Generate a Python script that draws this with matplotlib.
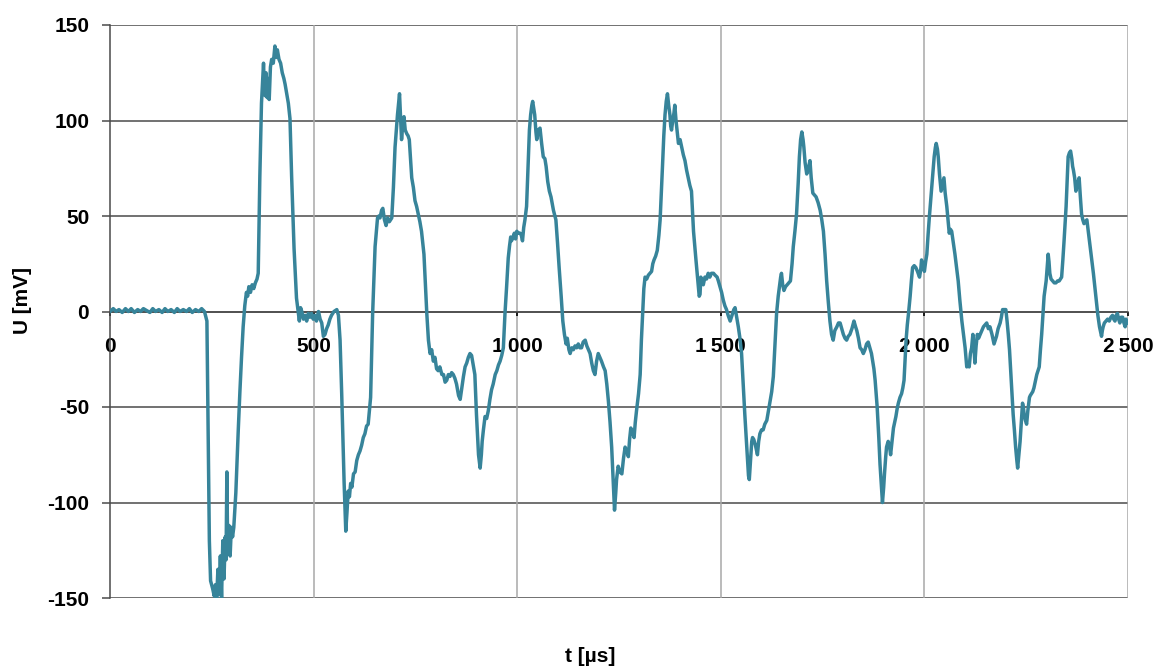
import matplotlib
matplotlib.use('Agg')
import matplotlib.pyplot as plt
import numpy as np

plt.rcParams['font.family'] = ['Liberation Sans', 'DejaVu Sans']
plt.rcParams['font.size'] = 15
plt.rcParams['font.weight'] = 'bold'
plt.rcParams['axes.unicode_minus'] = False

# measured signal: time in microseconds, voltage in millivolts
t_us = [
    0, 8, 15, 22, 30, 38, 45, 52, 60, 68, 75, 82, 90, 98, 105, 112, 120, 128, 135, 142,
    150, 158, 165, 172, 180, 188, 195, 202, 210, 218, 225, 232,
    238, 241, 244, 247, 252, 256, 259, 262, 265, 268, 271, 274, 277, 280, 283, 285, 287, 289,
    292, 295, 298, 301, 304, 309, 315, 319, 323, 327, 331, 335, 338, 341, 345, 349, 353, 357,
    361, 364, 366, 368, 372, 377, 379, 381, 383, 386, 388, 391, 394, 397, 401, 405, 408, 411,
    415, 419, 423, 427, 430, 434, 438, 442, 446, 452, 458, 462, 465, 468, 471, 475, 479, 483,
    487, 491, 495, 499, 503, 507, 512, 516, 520, 524, 528, 532, 536, 540, 544, 550, 557, 561,
    565, 569, 575, 579, 582, 585, 588, 591, 594, 598, 602, 606, 610, 614, 618, 622, 626, 630,
    634, 637, 640, 645, 651, 657, 660, 663, 667, 670, 674, 678, 682, 686, 692, 696, 700, 706,
    711, 714, 716, 719, 722, 725, 729, 732, 735, 738, 741, 745, 749, 753, 757, 761, 765, 771,
    778, 782, 786, 790, 794, 798, 802, 806, 810, 815, 819, 823, 827, 831, 835, 839, 843, 847,
    851, 856, 860, 864, 868, 872, 876, 880, 884, 888, 892, 896, 900, 905, 909, 912, 914, 917,
    921, 925, 929, 933, 937, 941, 946, 950, 954, 958, 962, 966, 970, 974, 978, 981, 984, 986,
    990, 993, 996, 999, 1003, 1007, 1010, 1013, 1016, 1019, 1023, 1027, 1030, 1033, 1036, 1038,
    1041, 1043, 1046, 1048, 1052, 1056, 1060, 1064, 1068, 1071, 1075, 1079, 1083, 1089, 1095,
    1099, 1103, 1108, 1112, 1116, 1120, 1123, 1127, 1130, 1134, 1138, 1142, 1146, 1150, 1154,
    1158, 1162, 1167, 1171, 1175, 1179, 1183, 1187, 1191, 1195, 1199, 1203, 1207, 1212, 1216,
    1220, 1224, 1228, 1232, 1236, 1239, 1242, 1244, 1248, 1252, 1257, 1261, 1265, 1269, 1273,
    1276, 1279, 1283, 1287, 1290, 1293, 1298, 1302, 1305, 1308, 1311, 1314, 1318, 1322, 1326,
    1330, 1333, 1336, 1340, 1344, 1348, 1351, 1354, 1357, 1360, 1363, 1366, 1369, 1372, 1375,
    1377, 1379, 1382, 1385, 1387, 1390, 1393, 1396, 1400, 1404, 1408, 1412, 1416, 1420, 1424,
    1428, 1433, 1439, 1445, 1447, 1449, 1451, 1453, 1457, 1461, 1465, 1469, 1473, 1477, 1482,
    1486, 1491, 1494, 1498, 1502, 1506, 1510, 1514, 1518, 1523, 1526, 1529, 1532, 1535, 1539,
    1543, 1547, 1551, 1555, 1559, 1565, 1568, 1570, 1573, 1576, 1578, 1581, 1585, 1590, 1593,
    1596, 1600, 1604, 1608, 1613, 1617, 1621, 1625, 1629, 1633, 1637, 1641, 1644, 1647, 1649,
    1652, 1655, 1659, 1663, 1667, 1671, 1675, 1678, 1682, 1686, 1690, 1693, 1696, 1699, 1702,
    1704, 1707, 1711, 1715, 1719, 1722, 1726, 1730, 1734, 1739, 1744, 1748, 1752, 1756, 1760,
    1764, 1768, 1772, 1776, 1780, 1785, 1789, 1793, 1797, 1801, 1805, 1809, 1813, 1817, 1822,
    1827, 1831, 1834, 1838, 1842, 1846, 1850, 1854, 1858, 1862, 1866, 1870, 1873, 1876, 1879,
    1884, 1888, 1891, 1894, 1897, 1900, 1902, 1905, 1907, 1911, 1914, 1917, 1921, 1924, 1927,
    1930, 1933, 1936, 1940, 1944, 1947, 1950, 1955, 1958, 1961, 1965, 1968, 1971, 1975, 1979,
    1983, 1988, 1991, 1993, 1997, 2000, 2003, 2006, 2009, 2012, 2015, 2018, 2021, 2024, 2027,
    2029, 2032, 2034, 2037, 2041, 2044, 2048, 2051, 2055, 2058, 2061, 2064, 2067, 2071, 2075,
    2079, 2083, 2087, 2092, 2096, 2100, 2104, 2107, 2110, 2113, 2116, 2119, 2122, 2124, 2127,
    2130, 2133, 2137, 2141, 2145, 2149, 2153, 2157, 2161, 2166, 2171, 2174, 2177, 2181, 2186,
    2189, 2192, 2196, 2200, 2203, 2206, 2209, 2212, 2215, 2218, 2221, 2224, 2227, 2229, 2232,
    2235, 2238, 2241, 2243, 2245, 2248, 2251, 2254, 2258, 2260, 2263, 2266, 2269, 2272, 2276,
    2279, 2282, 2285, 2288, 2291, 2294, 2297, 2299, 2302, 2304, 2306, 2308, 2311, 2315, 2319,
    2323, 2327, 2331, 2334, 2337, 2340, 2343, 2346, 2348, 2351, 2353, 2356, 2359, 2362, 2364,
    2366, 2369, 2372, 2376, 2380, 2383, 2386, 2389, 2392, 2395, 2399, 2403, 2407, 2411, 2415,
    2419, 2423, 2426, 2430, 2433, 2435, 2437, 2439, 2442, 2446, 2450, 2454, 2458, 2462, 2465,
    2468, 2471, 2474, 2477, 2480, 2483, 2487, 2490, 2493, 2495, 2497, 2500,
]
u_mv = [
    0, 1.5, 0, 1, -0.5, 1.5, 0, 1.5, -0.5, 1, 0, 1.5, 0.5, -0.5, 1.5, 0, 1, -0.5, 1.5, 0,
    1, -0.5, 1.5, 0, 1, 0, 1.5, -0.5, 1, 0, 1.5, 0,
    -5, -60, -120, -141, -145, -149, -143, -150, -135, -148, -128, -150, -120, -140, -118, -130, -84, -125,
    -112, -128, -113, -118, -113, -95, -62, -42, -24, -8, 3, 10, 8, 13, 10, 14, 12, 15,
    17, 20, 45, 71, 109, 130, 118, 113, 125, 112, 122, 111, 128, 132, 130, 139, 133, 137,
    132, 130, 125, 122, 119, 114, 109, 101, 71, 33, 7, 0, -5, 2, 0, -4, -2, -5,
    -1, -3, -1, -4, -2, -5, 0, -4, -6, -13, -12, -9, -7, -4, -2, 0, 1, -2,
    -15, -43, -90, -115, -105, -94, -97, -90, -92, -85, -84, -78, -75, -73, -70, -66, -64, -60,
    -59, -52, -45, -1, 34, 49, 50, 49, 53, 54, 48, 45, 49, 47, 49, 65, 86, 103,
    114, 100, 90, 98, 102, 95, 93, 92, 90, 80, 70, 65, 58, 55, 51, 47, 42, 30,
    -1, -15, -22, -20, -26, -24, -30, -31, -29, -33, -33, -37, -36, -33, -34, -32, -33, -35,
    -38, -44, -46, -40, -34, -29, -27, -24, -22, -23, -28, -33, -54, -75, -82, -75, -68, -62,
    -55, -56, -52, -46, -41, -38, -33, -31, -28, -26, -23, -19, -1, 13, 28, 34, 39, 37,
    39, 41, 38, 42, 41, 41, 40, 37, 44, 48, 55, 77, 95, 103, 108, 110,
    106, 103, 94, 90, 95, 96, 88, 81, 80, 76, 68, 63, 60, 53, 48,
    36, 23, 8, -5, -12, -17, -14, -20, -22, -19, -20, -18, -19, -17, -19,
    -19, -16, -15, -18, -20, -22, -27, -31, -33, -26, -22, -24, -26, -29, -31,
    -38, -47, -58, -71, -90, -104, -95, -88, -81, -84, -85, -77, -71, -73, -76,
    -67, -61, -63, -66, -58, -52, -43, -33, -15, -1, 12, 18, 17, 19, 20,
    21, 25, 27, 29, 32, 40, 48, 62, 77, 92, 103, 110, 114, 108, 103,
    97, 95, 100, 104, 108, 100, 94, 88, 90, 86, 82, 79, 74, 70, 66,
    63, 42, 27, 13, 8, 9, 18, 16, 14, 18, 17, 20, 18, 20, 20,
    19, 18, 16, 13, 10, 6, 3, 1, -2, -5, -3, -1, 1, 2, -3,
    -8, -14, -22, -38, -54, -75, -86, -88, -78, -68, -66, -67, -70, -75, -68,
    -64, -62, -62, -59, -57, -52, -47, -42, -34, -18, -1, 8, 13, 18, 20,
    14, 11, 13, 14, 15, 16, 25, 34, 42, 51, 67, 81, 90, 94, 90,
    86, 78, 72, 75, 79, 70, 62, 61, 60, 57, 53, 48, 42, 30, 16,
    5, -5, -12, -15, -10, -8, -6, -6, -9, -12, -14, -15, -13, -12, -9,
    -5, -8, -10, -14, -19, -20, -22, -20, -17, -16, -19, -22, -26, -30, -36,
    -50, -66, -80, -90, -100, -92, -85, -76, -71, -68, -70, -75, -67, -61, -58,
    -55, -51, -48, -45, -43, -40, -36, -15, -7, -1, 8, 16, 23, 24, 23,
    21, 18, 22, 27, 24, 21, 26, 30, 40, 49, 57, 65, 73, 81, 86,
    88, 85, 81, 72, 63, 66, 70, 62, 55, 48, 41, 43, 42, 36, 30,
    23, 16, 6, -5, -12, -19, -29, -28, -29, -22, -19, -12, -20, -27, -18,
    -12, -14, -12, -10, -8, -7, -6, -9, -8, -12, -17, -15, -13, -9, -6,
    -3, 1, 1, 1, -5, -12, -20, -31, -42, -54, -62, -71, -78, -82, -75,
    -68, -58, -48, -50, -54, -57, -59, -52, -45, -44, -43, -42, -40, -37, -33,
    -31, -29, -20, -12, -2, 8, 13, 16, 24, 30, 26, 20, 17, 16, 15,
    15, 16, 16, 17, 18, 27, 37, 48, 55, 70, 81, 83, 84, 80, 76,
    74, 70, 63, 67, 70, 60, 51, 48, 46, 47, 48, 41, 34, 27, 20,
    12, 4, -2, -8, -11, -13, -10, -8, -6, -5, -4, -5, -3, -2, -4,
    -5, -2, -1, -4, -6, -3, -3, -6, -8, -4, -5, -6,
]

x_ticks = [0, 500, 1000, 1500, 2000, 2500]
x_tick_labels = ['0', '500', '1\u2009000', '1\u2009500', '2\u2009000', '2\u2009500']
y_ticks = [-150, -100, -50, 0, 50, 100, 150]

fig = plt.figure(figsize=(11.6, 6.68), dpi=100)
ax = fig.add_axes([110 / 1160, 70 / 668, 1018 / 1160, 573 / 668])

ax.plot(t_us, u_mv, color='#37849A', linewidth=2.5, solid_joinstyle='round', zorder=3)

ax.set_xlim(0, 2500)
ax.set_ylim(-150, 150)

# horizontal grid dark, vertical grid light
for y in y_ticks:
    ax.axhline(y, color='#4a4a4a', linewidth=1.1, zorder=1)
for x in x_ticks[1:]:
    ax.axvline(x, color='#a8a8a8', linewidth=1.1, zorder=1)

ax.spines['top'].set_visible(False)
ax.spines['right'].set_visible(False)
ax.spines['left'].set_color('#4a4a4a')
ax.spines['left'].set_linewidth(1.1)
ax.spines['bottom'].set_position(('data', 0))
ax.spines['bottom'].set_color('#4a4a4a')
ax.spines['bottom'].set_linewidth(1.1)

ax.set_xticks(x_ticks)
ax.set_xticklabels(x_tick_labels)
ax.set_yticks(y_ticks)
ax.tick_params(axis='x', direction='out', length=3, width=1.2, color='black', pad=15.5, labelsize=15)
ax.tick_params(axis='y', direction='out', length=6, width=1.1, color='#4a4a4a', pad=9, labelsize=15)
for lbl in ax.get_xticklabels() + ax.get_yticklabels():
    lbl.set_fontweight('bold')

fig.text(22 / 1160, 1 - 300 / 668, 'U [mV]', rotation=90, ha='center', va='center',
         fontsize=15, fontweight='bold')
fig.text(590 / 1160, 1 - 656 / 668, 't [µs]', ha='center', va='center',
         fontsize=15, fontweight='bold')

fig.savefig('out.png', dpi=100)
plt.close()
